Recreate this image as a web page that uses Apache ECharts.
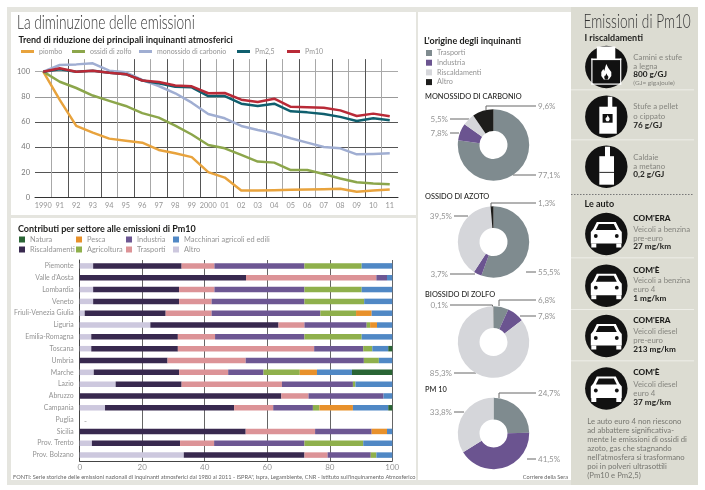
<!DOCTYPE html>
<html><head><meta charset="utf-8">
<style>html,body{margin:0;padding:0;background:#fff}#c{width:705px;height:490px}</style>
<script src="https://cdn.jsdelivr.net/npm/echarts@6/dist/echarts.min.js"></script>
</head><body><div id="c"></div>
<script>
const years=['1990','91','92','93','94','95','96','97','98','99','2000','01','02','03','04','05','06','07','08','09','10','11'];
const piombo=[100,77.5,56.8,51.5,46.7,45,43.5,37.7,35,32,20,15.7,5.5,5.5,5.7,6,6.2,6.5,6.8,4.5,5.5,6.3];
const zolfo=[100,92,87,81,76.7,72.7,67,63.4,57,50,41.6,39,33.7,28.4,27.6,21.7,21.7,18.6,15,12,11,10.3];
const carbonio=[100,105.3,105.8,106.6,100.8,99.5,93.4,88.6,82.8,75.3,66.3,62.9,56.8,53.6,51,47,43.5,40,39,34.2,34.5,35];
const pm25=[100,102,100,100.8,99.2,98,93,90.7,88,87.5,80.6,80.6,74.5,72.7,74.5,68.4,67.6,66.3,64,60.7,62.9,61.3];
const pm10=[100,102.7,100,100.8,99.2,98,93,91.8,89,88.3,82.8,83,77.7,75.9,78.5,72,71.6,71.3,69.2,64.7,66.6,64.5];

const regions=['Piemonte',"Valle d'Aosta",'Lombardia','Veneto','Friuli-Venezia Giulia','Liguria','Emilia-Romagna','Toscana','Umbria','Marche','Lazio','Abruzzo','Campania','Puglia','Sicilia','Prov. Trento','Prov. Bolzano'];
const altro=[4.3,0,4.3,4.3,1.6,22.6,3.7,3.7,0,4.5,11.5,0,8.1,0,0,3.9,33.3];
const riscaldamenti=[28.3,53.2,27.5,27.5,25.9,41,27.7,27.7,28.1,27.3,21.1,64.5,41.3,0,53.1,28.2,38.6];
const trasporti=[10.5,41.7,11.3,10.4,14.7,8.3,11.9,43.6,25,15.7,32.1,8.7,12.5,0,22.2,10.9,7.4];
const industria=[28.8,3.4,28.8,29.7,34.8,19.9,28.6,15.7,37.8,11.3,22.7,24,12.7,0,18.1,28.9,13.8];
const agricoltura=[18.3,0,18.3,19.1,11.4,1.1,18.3,2.9,4.8,11.6,0.8,0,2.1,0,0,18.8,1.8];
const pesca=[0,0,0,0,5,2.2,0,0,0,5.5,0,0,10.7,0,4.9,0,0];
const macchinari=[9.8,1.7,9.8,9,6.6,4.9,9.8,5.1,4.3,11.2,11.8,2.8,11.3,0,1.7,9.3,5.1];
const natura=[0,0,0,0,0,0,0,1.3,0,12.9,0,0,1.3,0,0,0,0];

const originNames=['Trasporti','Industria','Riscaldamenti','Altro'];
const monossido=[77.1,7.8,5.5,9.6];
const azoto=[55.5,3.7,39.5,1.3];
const biossido=[6.8,7.8,85.3,0.1];
const pm10Origin=[24.7,41.5,33.8];

const GREY='#949494', DARK='#1d1d1b', FONT='Lato, "Open Sans", sans-serif';
const pieColors=['#7f8b8f','#6b5490','#d5d6da','#1d1d1b'];

const lineDefs=[['piombo',piombo,'#e8a33d',21],['ossidi di zolfo',zolfo,'#8ca64b',72],['monossido di carbonio',carbonio,'#a0aed2',139],['Pm2,5',pm25,'#0f5f6e',237],['Pm10',pm10,'#b92a37',287]];
const barDefs=[['Altro',altro,'#cdc8de',174,251],['Riscaldamenti',riscaldamenti,'#38294f',20,251],['Trasporti',trasporti,'#dc9397',127,251],['Industria',industria,'#6d5793',127,241],['Agricoltura',agricoltura,'#8fb04c',77,251],['Pesca',pesca,'#e8912b',77,241],['Macchinari agricoli ed edili',macchinari,'#5088c5',174,241],['Natura',natura,'#2a6535',20,241]];

const pieDefs=[
 {v:monossido,cy:145,l:[
  {x:538,y:175,a:'left',p:[[513,175],[536,175]]},
  {x:448,y:133,a:'right',p:[[459,133],[450,133]]},
  {x:448,y:119,a:'right',p:[[469,119],[450,119]]},
  {x:538,y:106,a:'left',p:[[486,110],[486,106],[536,106]]}]},
 {v:azoto,cy:242,l:[
  {x:538,y:272,a:'left',p:[[526,272],[536,272]]},
  {x:448,y:274,a:'right',p:[[475,274],[450,274]]},
  {x:452,y:216,a:'right',p:[[468,216],[454,216]]},
  {x:538,y:203,a:'left',p:[[491,207],[491,203],[536,203]]}]},
 {v:biossido,cy:342,l:[
  {x:538,y:300,a:'left',p:[[499,306],[499,300],[536,300]]},
  {x:538,y:316,a:'left',p:[[520,316],[536,316]]},
  {x:452,y:373,a:'right',p:[[476,373],[454,373]]},
  {x:448,y:305,a:'right',p:[[492.5,307],[492.5,305],[450,305]]}]},
 {v:pm10Origin,cy:433.5,l:[
  {x:538,y:393,a:'left',p:[[499,398],[499,393],[536,393]]},
  {x:538,y:459,a:'left',p:[[527,459],[536,459]]},
  {x:452,y:412,a:'right',p:[[464,412],[454,412]]}]}
];

const series=[];
lineDefs.forEach(d=>series.push({type:'line',name:d[0],data:d[1],xAxisIndex:0,yAxisIndex:0,color:d[2],symbol:'none',lineStyle:{width:2.5,color:d[2],join:'round'},z:3,silent:true}));
barDefs.forEach(d=>series.push({type:'bar',name:d[0],data:d[1],xAxisIndex:1,yAxisIndex:1,stack:'s',barWidth:5.5,color:d[2],itemStyle:{color:d[2]},z:3,silent:true}));
pieDefs.forEach(pd=>series.push({type:'pie',center:[493.5,pd.cy],radius:[14,35.7],startAngle:90,silent:true,avoidLabelOverlap:false,
  data:pd.v.map((v,i)=>({name:originNames[i],value:v,itemStyle:{color:pieColors[i]}})),
  label:{show:true,position:'outer',formatter:p=>String(p.value).replace('.',',')+'%',fontFamily:FONT,fontSize:8,color:GREY},
  labelLine:{show:true,lineStyle:{color:'#666',width:1}},
  labelLayout:p=>{const l=pd.l[p.dataIndex];return {x:l.x,y:l.y,align:l.a,verticalAlign:'middle',labelLinePoints:l.p};}
}));

const legends=[];
lineDefs.forEach(d=>legends.push({data:[d[0]],left:d[3],top:48,padding:0,icon:'rect',itemWidth:13,itemHeight:3,itemGap:0,selectedMode:false,textStyle:{fontFamily:FONT,fontSize:7,color:GREY}}));
barDefs.forEach(d=>legends.push({data:[d[0]],left:d[3]-1,top:d[4]-5,padding:0,icon:'rect',itemWidth:6,itemHeight:6,selectedMode:false,textStyle:{fontFamily:FONT,fontSize:7.4,color:GREY}}));
legends.push({data:originNames.map((n,i)=>({name:n,itemStyle:{color:pieColors[i]}})),orient:'vertical',left:426,top:49.5,icon:'rect',itemWidth:6,itemHeight:6,itemGap:2.7,selectedMode:false,padding:0,textStyle:{fontFamily:FONT,fontSize:7.3,color:GREY}});

function T(x,y,text,font,fill,align,sx){const e={type:'text',x,y,z:5,silent:true,style:{text,font:font+' '+FONT,fill:fill||DARK,align:align||'left',verticalAlign:'middle'}};if(sx){e.scaleX=sx;}return e;}
function R(x,y,w,h,fill,z){return {type:'rect',z:z===undefined?-5:z,silent:true,shape:{x,y,width:w,height:h},style:{fill}};}
function disc(cx,cy,children){return {type:'group',x:cx,y:cy,z:4,silent:true,children:[{type:'circle',z:4,shape:{cx:0,cy:0,r:21.2},style:{fill:'#111'}}].concat(children)};}
const W='#fff', K='#111';
function r(x,y,w,h,f){return {type:'rect',z:5,shape:{x,y,width:w,height:h},style:{fill:f}};}
function poly(points,f,smooth){return {type:'polygon',z:5,shape:{points,smooth:smooth||0},style:{fill:f}};}
function car(cy){return disc(606.3,cy,[
  poly([[-9.5,-12],[9.5,-12],[13,-5],[15.5,-2],[15.5,9.5],[-15.5,9.5],[-15.5,-2],[-13,-5]],W),
  poly([[-7.5,-10],[7.5,-10],[10.5,-4],[-10.5,-4]],K),
  {type:'circle',z:6,shape:{cx:-10.5,cy:2,r:1.9},style:{fill:K}},
  {type:'circle',z:6,shape:{cx:10.5,cy:2,r:1.9},style:{fill:K}},
  r(-15,9.5,5,4,W),r(10,9.5,5,4,W)]);}
function flame(cx,cy,s,f){return poly([[0,-8],[2,-4],[5,0],[5,4],[2.5,7.5],[-2.5,7.5],[-5,4],[-5,0],[-3,-3],[-2,-1],[-1,-5]].map(p=>[cx+p[0]*s,cy+p[1]*s]),f);}

const BEIGE='#dcdcd2', FRAME='#e5e5df';
const graphic=[
 R(7,7,564,478,FRAME,-10), R(11,12,560,468,'#fff',-9),
 R(11,215,405,3,FRAME,-8), R(416,12,2,468,FRAME,-8),
 R(571,7,127,478,BEIGE,-9),
 R(571,89.5,123,.8,'#f4f4ef',-8), R(571,139.5,123,.8,'#f4f4ef',-8), R(571,257.5,123,.8,'#f4f4ef',-8), R(571,309,123,.8,'#f4f4ef',-8), R(571,360.5,123,.8,'#f4f4ef',-8),
 {type:'line',z:-8,silent:true,shape:{x1:571,y1:194.5,x2:694,y2:194.5},style:{stroke:'#777',lineWidth:1,lineDash:[1.5,1.5]}},
 T(17,23,'La diminuzione delle emissioni','300 19px','#333','left',0.72),
 T(18.5,40,'Trend di riduzione dei principali inquinanti atmosferici','bold 9px'),
 T(18,229,'Contributi per settore alle emissioni di Pm10','bold 9px'),
 T(424,41,"L'origine degli inquinanti",'bold 9px'),
 T(425,97,'MONOSSIDO DI CARBONIO','500 7.4px'),
 T(425,196.7,'OSSIDO DI AZOTO','500 7.4px'),
 T(425,295,'BIOSSIDO DI ZOLFO','500 7.4px'),
 T(425,390,'PM 10','500 7.4px'),
 T(84,421.5,'-','8px',GREY),
 T(13,476.7,"FONTI: Serie storiche delle emissioni nazionali di inquinanti atmosferici dal 1980 al 2011 - ISPRA\", Ispra, Legambiente, CNR - Istituto sull'inquinamento Atmosferico",'5.65px','#666'),
 T(568,476.7,'Corriere della Sera','5.6px','#666','right'),
 T(583.5,22,'Emissioni di Pm10','300 19px','#333','left',0.72),
 T(584.5,38,'I riscaldamenti','bold 9px'),
 T(584.5,204,'Le auto','bold 9px'),
 disc(606.3,67,[
   r(-9.5,-20.5,18.5,12.5,W),
   r(-15,-8.5,30,1.6,W), r(-15,-8.5,1.2,26,W), r(13.8,-8.5,1.2,26,W), r(-15,16.5,30,1.2,W),
   flame(0,5,1,W), flame(0,9.5,.4,K)]),
 disc(606.3,116.7,[
   r(1.5,-20,4.5,11,W), r(-7,-10,17.5,27,W), r(-3.7,-2.7,10,8.7,K), flame(1.3,1.5,.4,W)]),
 disc(606.3,166.7,[
   r(-1.3,-20,5,11,W), r(-7,-10.5,14.7,28.5,W), r(-7,5.2,14.7,.9,K)]),
 car(234),car(285.7),car(336),car(388.5)
];
[[57,'Camini e stufe'],[66,'a legna'],[106.7,'Stufe a pellet'],[116.7,'o cippato'],[157.3,'Caldaie'],[166,'a metano'],
 [229.7,'Veicoli a benzina'],[238.7,'pre-euro'],[280.7,'Veicoli a benzina'],[289.3,'euro 4'],[331.7,'Veicoli diesel'],[340.7,'pre-euro'],[384.3,'Veicoli diesel'],[393,'euro 4']]
 .forEach(a=>graphic.push(T(633.3,a[0],a[1],'7.8px','#85857f')));
[[74.7,'800 g/GJ'],[125.3,'76 g/GJ'],[174.7,'0,2 g/GJ'],[246.7,'27 mg/km'],[298.3,'1 mg/km'],[349.3,'213 mg/km'],[402,'37 mg/km']]
 .forEach(a=>graphic.push(T(633.3,a[0],a[1],'bold 8.2px',DARK)));
[[218.3,"COM'ERA"],[270,"COM'È"],[320.7,"COM'ERA"],[372.3,"COM'È"]]
 .forEach(a=>graphic.push(T(633.3,a[0],a[1],'900 8.2px',DARK)));
graphic.push(T(633.3,82.7,'(GJ= gigajoule)','6.5px','#85857f'));
['Le auto euro 4 non riescono','ad abbattere significativa-','mente le emissioni di ossidi di','azoto, gas che stagnando',"nell'atmosfera si trasformano",'poi in polveri ultrasottili','(Pm10 e Pm2,5)']
 .forEach((s,i)=>graphic.push(T(587.3,421.3+i*9,s,'7.7px','#777771')));

const chart=echarts.init(document.getElementById('c'),null,{renderer:'canvas'});
chart.setOption({
 animation:false,backgroundColor:'#fff',
 legend:legends,graphic:{elements:graphic},
 grid:[{left:35,top:59.1,width:363,height:138.2,containLabel:false},{left:79.7,top:260,width:312.6,height:201}],
 xAxis:[
  {type:'category',gridIndex:0,data:years,boundaryGap:true,axisLine:{lineStyle:{color:'#333',width:1}},axisTick:{length:2,lineStyle:{color:'#333'}},
   axisLabel:{interval:0,fontFamily:FONT,fontSize:7.3,color:GREY,margin:5},splitLine:{show:true,showMinLine:false,showMaxLine:false,interval:0,lineStyle:{color:['#a8a8a8','#555'],width:1}}},
  {type:'value',gridIndex:1,min:0,max:100,interval:20,axisLine:{show:true,lineStyle:{color:'#444'}},axisTick:{show:false},
   axisLabel:{fontFamily:FONT,fontSize:8,color:GREY,margin:2},splitLine:{show:true,lineStyle:{color:'#666',width:1}}}
 ],
 yAxis:[
  {type:'value',gridIndex:0,min:0,max:110,interval:20,axisLine:{show:false},axisTick:{show:false},
   axisLabel:{showMaxLabel:false,fontFamily:FONT,fontSize:7.5,color:'#777',margin:5},
   splitLine:{show:true,showMaxLine:false,lineStyle:{color:['#333','#555','#555','#555','#999','#aaa'],width:1}}},
  {type:'category',gridIndex:1,data:regions,inverse:true,axisLine:{show:true,lineStyle:{color:'#444'}},axisTick:{show:false},
   axisLabel:{interval:0,fontFamily:FONT,fontSize:6.9,color:GREY,margin:6},splitLine:{show:false}}
 ],
 series
});
</script></body></html>
